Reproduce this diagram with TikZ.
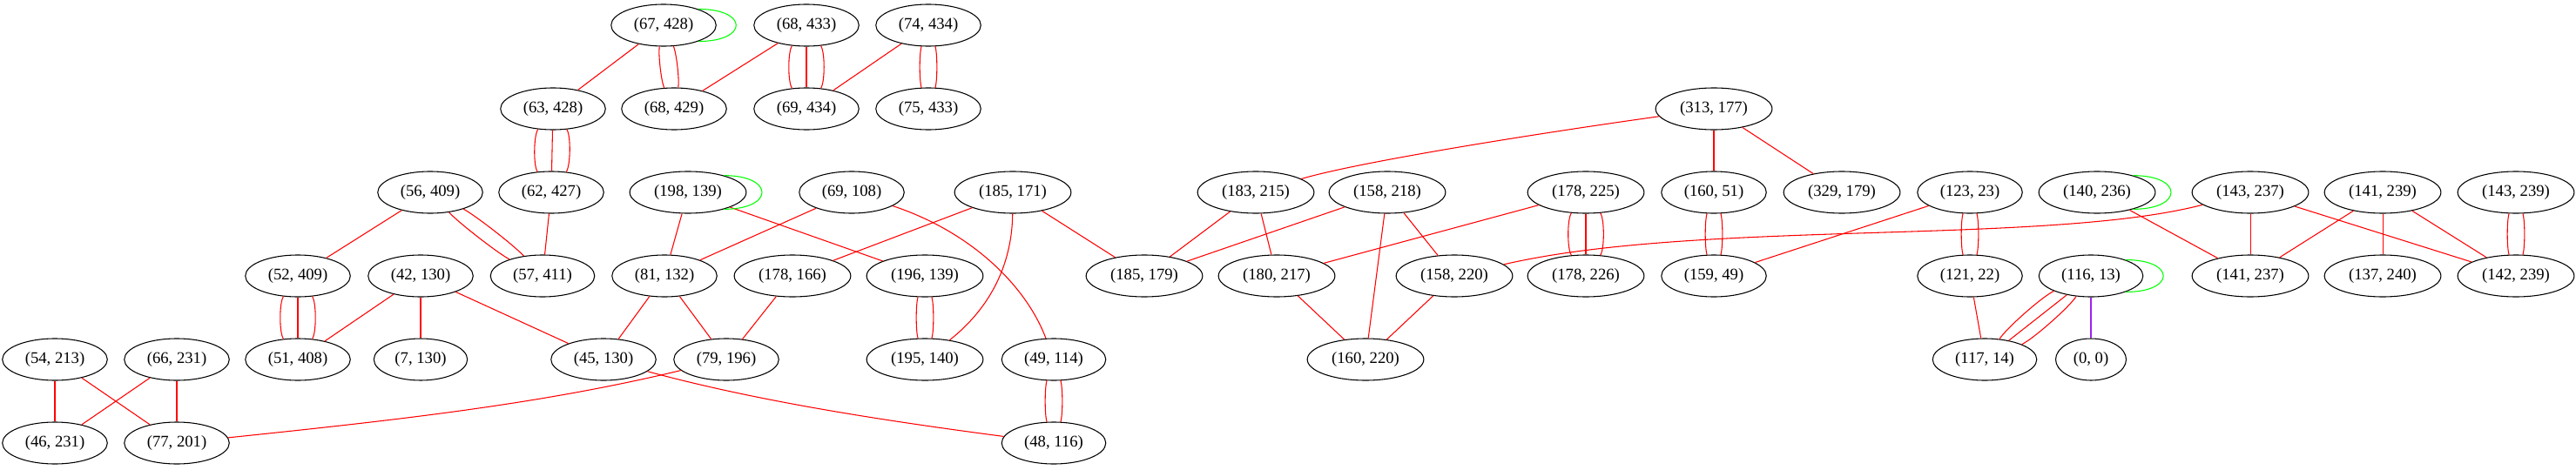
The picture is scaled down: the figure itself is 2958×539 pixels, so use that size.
\documentclass[tikz,border=0pt]{standalone}
\usepackage{fontspec}
\setmainfont{Liberation Serif}
\usepackage{tikz}
\usetikzlibrary{shapes.geometric}

\definecolor{gvred}{RGB}{255,0,0}
\definecolor{gvgreen}{RGB}{0,255,0}
\definecolor{gvpurple}{RGB}{160,32,240}

\begin{document}
\begin{tikzpicture}[x=0.75pt, y=-0.75pt, fan/.style={bend left=#1, looseness=.45}]
		\tikzstyle{vtx}=[draw, ellipse, line width=0.8pt, inner xsep=6.3pt, inner ysep=0pt, minimum height=36pt, font=\fontsize{14}{16}\selectfont]
		\tikzstyle{link}=[draw=gvred, line width=0.8pt]
		\tikzstyle{selfloop}=[draw=gvgreen, line width=0.8pt]
		
		\useasboundingbox (0,0) rectangle (2958,539);
		
		\node[vtx] (n67-428)  at (762, 29)  {(67, 428)};
		\node[vtx] (n68-433)  at (926, 29)  {(68, 433)};
		\node[vtx] (n74-434)  at (1066, 29) {(74, 434)};
		
		\node[vtx] (n63-428)  at (635, 125)  {(63, 428)};
		\node[vtx] (n68-429)  at (774, 125)  {(68, 429)};
		\node[vtx] (n69-434)  at (926, 125)  {(69, 434)};
		\node[vtx] (n75-433)  at (1066, 125) {(75, 433)};
		\node[vtx] (n313-177) at (1968, 125) {(313, 177)};
		
		\node[vtx] (n56-409)  at (494, 221)  {(56, 409)};
		\node[vtx] (n62-427)  at (633, 221)  {(62, 427)};
		\node[vtx] (n198-139) at (790, 221)  {(198, 139)};
		\node[vtx] (n69-108)  at (978, 221)  {(69, 108)};
		\node[vtx] (n185-171) at (1163, 221) {(185, 171)};
		\node[vtx] (n183-215) at (1442, 221) {(183, 215)};
		\node[vtx] (n158-218) at (1593, 221) {(158, 218)};
		\node[vtx] (n178-225) at (1821, 221) {(178, 225)};
		\node[vtx] (n160-51)  at (1968, 221) {(160, 51)};
		\node[vtx] (n329-179) at (2115, 221) {(329, 179)};
		\node[vtx] (n123-23)  at (2262, 221) {(123, 23)};
		\node[vtx] (n140-236) at (2408, 221) {(140, 236)};
		\node[vtx] (n143-237) at (2584, 221) {(143, 237)};
		\node[vtx] (n141-239) at (2736, 221) {(141, 239)};
		\node[vtx] (n143-239) at (2889, 221) {(143, 239)};
		
		\node[vtx] (n52-409)  at (342, 317)  {(52, 409)};
		\node[vtx] (n42-130)  at (483, 317)  {(42, 130)};
		\node[vtx] (n57-411)  at (623, 317)  {(57, 411)};
		\node[vtx] (n81-132)  at (763, 317)  {(81, 132)};
		\node[vtx] (n178-166) at (910, 317)  {(178, 166)};
		\node[vtx] (n196-139) at (1062, 317) {(196, 139)};
		\node[vtx] (n185-179) at (1314, 317) {(185, 179)};
		\node[vtx] (n180-217) at (1466, 317) {(180, 217)};
		\node[vtx] (n158-220) at (1670, 317) {(158, 220)};
		\node[vtx] (n178-226) at (1821, 317) {(178, 226)};
		\node[vtx] (n159-49)  at (1968, 317) {(159, 49)};
		\node[vtx] (n121-22)  at (2262, 317) {(121, 22)};
		\node[vtx] (n116-13)  at (2401, 317) {(116, 13)};
		\node[vtx] (n141-237) at (2584, 317) {(141, 237)};
		\node[vtx] (n137-240) at (2736, 317) {(137, 240)};
		\node[vtx] (n142-239) at (2889, 317) {(142, 239)};
		
		\node[vtx] (n54-213)  at (63, 413)   {(54, 213)};
		\node[vtx] (n66-231)  at (203, 413)  {(66, 231)};
		\node[vtx] (n51-408)  at (342, 413)  {(51, 408)};
		\node[vtx] (n7-130)   at (483, 413)  {(7, 130)};
		\node[vtx] (n45-130)  at (693, 413)  {(45, 130)};
		\node[vtx] (n79-196)  at (834, 413)  {(79, 196)};
		\node[vtx] (n195-140) at (1062, 413) {(195, 140)};
		\node[vtx] (n49-114)  at (1210, 413) {(49, 114)};
		\node[vtx] (n160-220) at (1568, 413) {(160, 220)};
		\node[vtx] (n117-14)  at (2279, 413) {(117, 14)};
		\node[vtx] (n0-0)     at (2401, 413) {(0, 0)};
		
		\node[vtx] (n46-231)  at (63, 509)   {(46, 231)};
		\node[vtx] (n77-201)  at (203, 509)  {(77, 201)};
		\node[vtx] (n48-116)  at (1210, 509) {(48, 116)};
		
		\path[link]
		(n67-428)  edge (n63-428)
		(n68-433)  edge (n68-429)
		(n74-434)  edge (n69-434)
		(n56-409)  edge (n52-409)
		(n62-427)  edge (n57-411)
		(n198-139) edge (n81-132)
		(n198-139) edge (n196-139)
		(n69-108)  edge (n81-132)
		(n185-171) edge (n178-166)
		(n185-171) edge (n185-179)
		(n42-130)  edge (n51-408)
		(n42-130)  edge (n7-130)
		(n42-130)  edge (n45-130)
		(n81-132)  edge (n45-130)
		(n81-132)  edge (n79-196)
		(n178-166) edge (n79-196)
		(n54-213)  edge (n46-231)
		(n54-213)  edge (n77-201)
		(n66-231)  edge (n46-231)
		(n66-231)  edge (n77-201)
		(n313-177) edge (n160-51)
		(n313-177) edge (n329-179)
		(n183-215) edge (n185-179)
		(n183-215) edge (n180-217)
		(n158-218) edge (n185-179)
		(n158-218) edge (n160-220)
		(n158-218) edge (n158-220)
		(n178-225) edge (n180-217)
		(n180-217) edge (n160-220)
		(n158-220) edge (n160-220)
		(n123-23)  edge (n159-49)
		(n140-236) edge (n141-237)
		(n143-237) edge (n141-237)
		(n143-237) edge (n142-239)
		(n141-239) edge (n141-237)
		(n141-239) edge (n137-240)
		(n141-239) edge (n142-239)
		(n121-22)  edge (n117-14)
		(n116-13)  edge [draw=gvpurple] (n0-0)
		;
		
		\path[link]
		(n67-428)  edge [fan=18] (n68-429)  edge [fan=-18] (n68-429)
		(n74-434)  edge [fan=18] (n75-433)  edge [fan=-18] (n75-433)
		(n56-409)  edge [fan=10] (n57-411)  edge [fan=-10] (n57-411)
		(n196-139) edge [fan=18] (n195-140) edge [fan=-18] (n195-140)
		(n49-114)  edge [fan=18] (n48-116)  edge [fan=-18] (n48-116)
		(n160-51)  edge [fan=18] (n159-49)  edge [fan=-18] (n159-49)
		(n123-23)  edge [fan=18] (n121-22)  edge [fan=-18] (n121-22)
		(n143-239) edge [fan=18] (n142-239) edge [fan=-18] (n142-239)
		(n68-433)  edge [fan=35] (n69-434)  edge (n69-434) edge [fan=-35] (n69-434)
		(n63-428)  edge [fan=35] (n62-427)  edge (n62-427) edge [fan=-35] (n62-427)
		(n52-409)  edge [fan=35] (n51-408)  edge (n51-408) edge [fan=-35] (n51-408)
		(n178-225) edge [fan=35] (n178-226) edge (n178-226) edge [fan=-35] (n178-226)
		(n116-13)  edge [fan=16] (n117-14)  edge (n117-14) edge [fan=-16] (n117-14)
		;
		
		\draw[link] (n69-108)  .. controls (1117,267) and (1179,330) .. (n49-114);
		\draw[link] (n185-171) .. controls (1162,315) and (1127,362) .. (n195-140);
		\draw[link] (n79-196)  .. controls (622,464) and (462,482) .. (n77-201);
		\draw[link] (n45-130)  .. controls (866,460) and (1005,482) .. (n48-116);
		\draw[link] (n313-177) .. controls (1767,153) and (1560,186) .. (n183-215);
		\draw[link] (n143-237) .. controls (2350,282) and (1950,252) .. (n158-220);
		
		\draw[selfloop] (n67-428.25)  .. controls +(58,0) and +(58,0) .. (n67-428.-25);
		\draw[selfloop] (n198-139.25) .. controls +(58,0) and +(58,0) .. (n198-139.-25);
		\draw[selfloop] (n140-236.25) .. controls +(58,0) and +(58,0) .. (n140-236.-25);
		\draw[selfloop] (n116-13.25)  .. controls +(58,0) and +(58,0) .. (n116-13.-25);
\end{tikzpicture}
\end{document}
